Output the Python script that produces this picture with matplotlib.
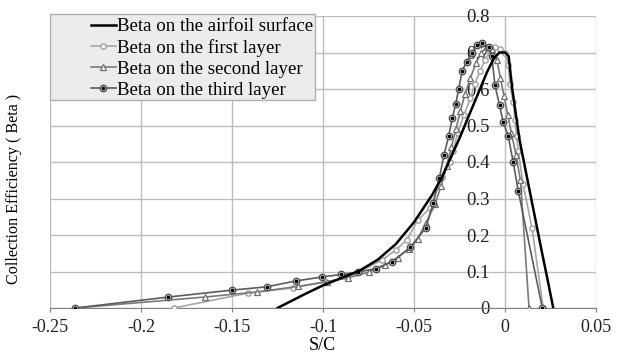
import matplotlib
matplotlib.use("Agg")
import matplotlib.pyplot as plt
from matplotlib.patches import Rectangle
from matplotlib.legend_handler import HandlerTuple

plt.rcParams['font.family'] = ['Liberation Serif', 'DejaVu Serif']

# ---------- data ----------
surf_s = [-0.125, -0.11, -0.10, -0.09, -0.08, -0.07, -0.06, -0.05, -0.04, -0.035,
          -0.03, -0.025, -0.02, -0.015, -0.01, -0.006, -0.003, 0.0, 0.002, 0.004,
          0.008, 0.012, 0.016, 0.020, 0.0235, 0.0265]
surf_b = [0.0, 0.038, 0.062, 0.082, 0.102, 0.132, 0.175, 0.235, 0.31, 0.355,
          0.41, 0.465, 0.525, 0.585, 0.645, 0.685, 0.70, 0.70, 0.69, 0.60,
          0.46, 0.36, 0.26, 0.16, 0.075, 0.0]

first_s = [-0.182, -0.141, -0.1165, -0.087, -0.0676, -0.060, -0.054, -0.048, -0.041,
           -0.0346, -0.030, -0.0285, -0.026, -0.0225, -0.019, -0.0165, -0.0137, -0.011,
           -0.008, -0.0055, -0.0027, 0.0, 0.0018, 0.0027, 0.0045, 0.0055, 0.0064,
           0.0073, 0.0099, 0.0148, 0.021]
first_b = [0.0, 0.041, 0.055, 0.082, 0.131, 0.159, 0.186, 0.24, 0.275,
           0.36, 0.40, 0.43, 0.48, 0.53, 0.575, 0.615, 0.65, 0.68,
           0.705, 0.715, 0.71, 0.70, 0.665, 0.615, 0.565, 0.515, 0.47,
           0.43, 0.34, 0.22, 0.0]

second_s = [-0.236, -0.165, -0.136, -0.114, -0.098, -0.086, -0.075, -0.066, -0.059,
            -0.053, -0.048, -0.0435, -0.0385, -0.035, -0.032, -0.0295, -0.027, -0.0245,
            -0.022, -0.019, -0.016, -0.013, -0.010, -0.007, -0.0045, -0.0025, -0.0005,
            0.0015, 0.0035, 0.006, 0.0085, 0.0132]
second_b = [0.0, 0.030, 0.044, 0.059, 0.072, 0.083, 0.098, 0.117, 0.138,
            0.162, 0.190, 0.232, 0.285, 0.335, 0.39, 0.44, 0.49, 0.54,
            0.585, 0.63, 0.67, 0.70, 0.715, 0.71, 0.68, 0.63, 0.58,
            0.53, 0.48, 0.42, 0.35, 0.0]

third_s = [-0.236, -0.185, -0.150, -0.131, -0.115, -0.1005, -0.090, -0.081, -0.071,
           -0.062, -0.052, -0.0435, -0.0395, -0.036, -0.0335, -0.031, -0.029, -0.027,
           -0.0255, -0.0235, -0.021, -0.018, -0.0155, -0.0125, -0.009, -0.0073, -0.0055,
           -0.003, -0.001, 0.0018, 0.0045, 0.0073, 0.0205]
third_b = [0.0, 0.030, 0.049, 0.058, 0.074, 0.085, 0.092, 0.098, 0.108,
           0.127, 0.166, 0.220, 0.287, 0.357, 0.42, 0.47, 0.52, 0.56,
           0.60, 0.65, 0.675, 0.70, 0.72, 0.725, 0.715, 0.69, 0.61,
           0.555, 0.51, 0.47, 0.40, 0.32, 0.0]

labels = ["Beta on the airfoil surface", "Beta on the first layer",
          "Beta on the second layer", "Beta on the third layer"]
xticks = [-0.25, -0.2, -0.15, -0.1, -0.05, 0, 0.05]
yticks = [0, 0.1, 0.2, 0.3, 0.4, 0.5, 0.6, 0.7, 0.8]

W, H = 621, 354
fig = plt.figure(figsize=(W / 100, H / 100), dpi=100)
ax = fig.add_axes([50 / W, 1 - 308 / H, 546 / W, 292 / H])

grid_c = '#bdbdbd'
ax.set_xlim(-0.25, 0.05)
ax.set_ylim(0, 0.8)
ax.set_xticks(xticks)
ax.set_yticks(yticks)
ax.set_xticklabels([f"{v:g}" for v in xticks])
ax.set_yticklabels([f"{v:g}" for v in yticks])
ax.grid(True, color=grid_c, lw=1.0)
ax.set_axisbelow(True)
for sp in ['top', 'right']:
    ax.spines[sp].set_visible(False)
ax.spines['left'].set_position(('data', 0))
ax.spines['left'].set_color(grid_c)
ax.spines['bottom'].set_color('#808080')
ax.tick_params(axis='y', length=0, pad=11, labelsize=13.5, colors='#222222')
ax.tick_params(axis='x', length=3, color='#808080', pad=5, labelsize=13, colors='#222222')
for t in ax.get_yticklabels():
    t.set_zorder(1)

# curves
l1, = ax.plot(first_s, first_b, color='#a3a7ad', lw=1.2, marker='o', ms=3.8,
              mfc='white', mec='#9aa0a8', mew=1.0, zorder=3)
l2, = ax.plot(second_s, second_b, color='#7a7a7a', lw=1.2, marker='^', ms=4,
              mfc='white', mec='#6e6e6e', mew=0.9, zorder=4)
l3, = ax.plot(third_s, third_b, color='#5c5c5c', lw=1.2, marker='o', ms=4.6,
              mfc='white', mec='#505050', mew=1.0, zorder=5)
l3d, = ax.plot(third_s, third_b, ls='none', marker='o', ms=1.8, color='black', zorder=6)
l0, = ax.plot(surf_s, surf_b, color='black', lw=1.8, zorder=7)

# legend box
ax.add_patch(Rectangle((50 / W, 1 - 100 / H), 265 / W, 86 / H, transform=fig.transFigure,
                       facecolor='#ececec', edgecolor='#b0b0b0', lw=1.0, zorder=8,
                       clip_on=False))
leg = fig.legend([l0, l1, l2, (l3, l3d)], labels, loc='upper left',
                 bbox_to_anchor=(91 / W, 1 - 18 / H), frameon=False, fontsize=13.6,
                 handlelength=1.3, handletextpad=0.1, labelspacing=0.2,
                 borderpad=0.0, borderaxespad=0,
                 handler_map={tuple: HandlerTuple(ndivide=1, pad=0)})
leg.set_zorder(9)

fig.text(322 / W, 1 - 345 / H, "S/C", ha='center', va='center', fontsize=13)
fig.text(14 / W, 1 - 189 / H, "Collection Efficiency ( Beta )", ha='center', va='center',
         rotation=90, fontsize=11.6)

fig.savefig("out.png", dpi=100)
